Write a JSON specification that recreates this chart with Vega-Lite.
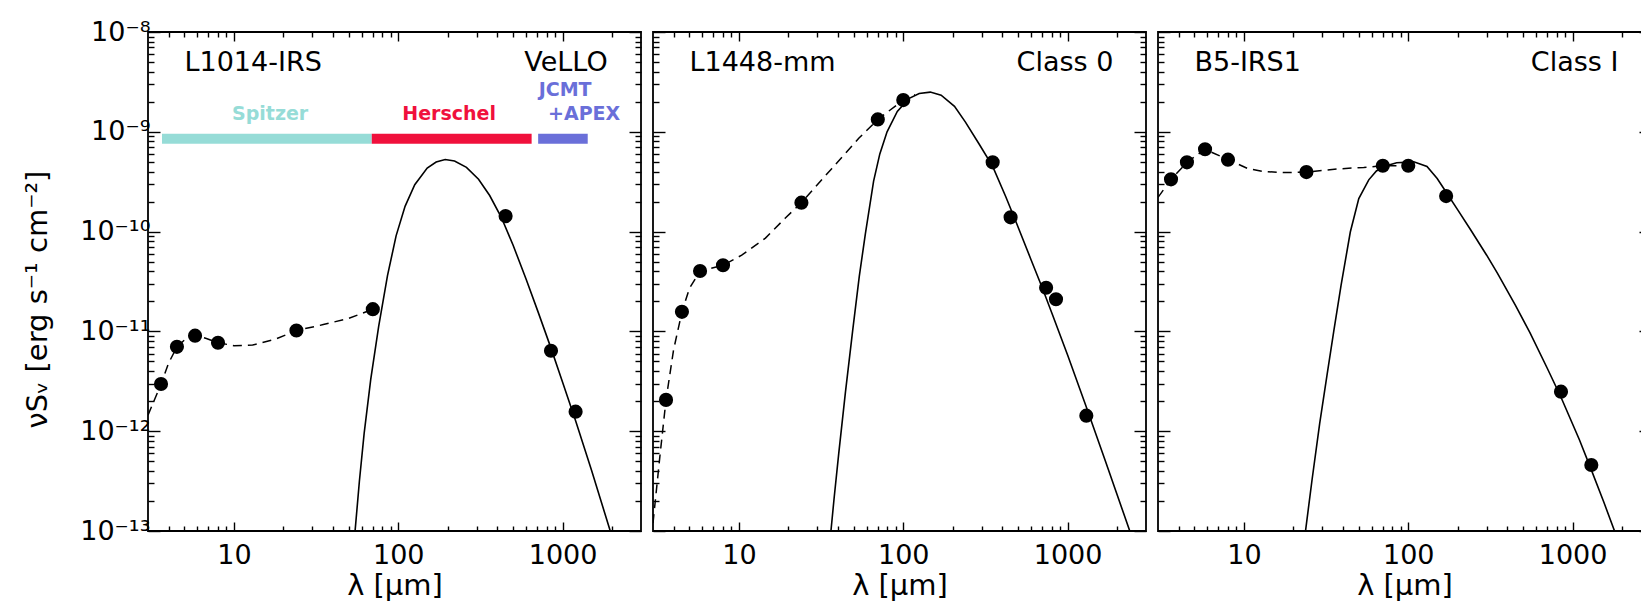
{
  "$schema": "https://vega.github.io/schema/vega-lite/v6.json",
  "padding": {"left": 22, "top": 17, "right": 0, "bottom": 0},
  "spacing": 8,
  "config": {
    "view": {"stroke": "black", "strokeWidth": 1.8},
    "font": "DejaVu Sans",
    "axis": {"labelFont": "DejaVu Sans", "titleFont": "DejaVu Sans", "labelColor": "black", "titleColor": "black", "tickColor": "black", "tickWidth": 1.4, "domain": false, "grid": false, "labelFlush": false, "titleFontWeight": "normal"}
  },
  "datasets": {
    "points": [
      {"panel": "L1014-IRS", "lam": 3.6, "flux": 2.97e-12},
      {"panel": "L1014-IRS", "lam": 4.5, "flux": 7.0e-12},
      {"panel": "L1014-IRS", "lam": 5.8, "flux": 9.06e-12},
      {"panel": "L1014-IRS", "lam": 8.0, "flux": 7.7e-12},
      {"panel": "L1014-IRS", "lam": 24, "flux": 1.02e-11},
      {"panel": "L1014-IRS", "lam": 70, "flux": 1.67e-11},
      {"panel": "L1014-IRS", "lam": 450, "flux": 1.43e-10},
      {"panel": "L1014-IRS", "lam": 850, "flux": 6.4e-12},
      {"panel": "L1014-IRS", "lam": 1200, "flux": 1.57e-12},
      {"panel": "L1448-mm", "lam": 3.6, "flux": 2.06e-12},
      {"panel": "L1448-mm", "lam": 4.5, "flux": 1.57e-11},
      {"panel": "L1448-mm", "lam": 5.8, "flux": 4.03e-11},
      {"panel": "L1448-mm", "lam": 8.0, "flux": 4.6e-11},
      {"panel": "L1448-mm", "lam": 24, "flux": 1.95e-10},
      {"panel": "L1448-mm", "lam": 70, "flux": 1.33e-9},
      {"panel": "L1448-mm", "lam": 100, "flux": 2.08e-9},
      {"panel": "L1448-mm", "lam": 350, "flux": 4.94e-10},
      {"panel": "L1448-mm", "lam": 450, "flux": 1.39e-10},
      {"panel": "L1448-mm", "lam": 740, "flux": 2.74e-11},
      {"panel": "L1448-mm", "lam": 850, "flux": 2.1e-11},
      {"panel": "L1448-mm", "lam": 1300, "flux": 1.43e-12},
      {"panel": "B5-IRS1", "lam": 3.6, "flux": 3.34e-10},
      {"panel": "B5-IRS1", "lam": 4.5, "flux": 4.94e-10},
      {"panel": "B5-IRS1", "lam": 5.8, "flux": 6.68e-10},
      {"panel": "B5-IRS1", "lam": 8.0, "flux": 5.26e-10},
      {"panel": "B5-IRS1", "lam": 24, "flux": 3.95e-10},
      {"panel": "B5-IRS1", "lam": 70, "flux": 4.57e-10},
      {"panel": "B5-IRS1", "lam": 100, "flux": 4.57e-10},
      {"panel": "B5-IRS1", "lam": 170, "flux": 2.27e-10},
      {"panel": "B5-IRS1", "lam": 850, "flux": 2.49e-12},
      {"panel": "B5-IRS1", "lam": 1300, "flux": 4.58e-13}
    ],
    "dashed": [
      {"panel": "L1014-IRS", "lam": 3.0, "flux": 1.45e-12},
      {"panel": "L1014-IRS", "lam": 3.3, "flux": 2.1e-12},
      {"panel": "L1014-IRS", "lam": 3.6, "flux": 2.97e-12},
      {"panel": "L1014-IRS", "lam": 4.0, "flux": 4.8e-12},
      {"panel": "L1014-IRS", "lam": 4.5, "flux": 7.0e-12},
      {"panel": "L1014-IRS", "lam": 5.0, "flux": 8.2e-12},
      {"panel": "L1014-IRS", "lam": 5.8, "flux": 9.06e-12},
      {"panel": "L1014-IRS", "lam": 6.8, "flux": 8.5e-12},
      {"panel": "L1014-IRS", "lam": 8.0, "flux": 7.7e-12},
      {"panel": "L1014-IRS", "lam": 10, "flux": 7.2e-12},
      {"panel": "L1014-IRS", "lam": 13, "flux": 7.3e-12},
      {"panel": "L1014-IRS", "lam": 18, "flux": 8.4e-12},
      {"panel": "L1014-IRS", "lam": 24, "flux": 1.02e-11},
      {"panel": "L1014-IRS", "lam": 35, "flux": 1.17e-11},
      {"panel": "L1014-IRS", "lam": 50, "flux": 1.35e-11},
      {"panel": "L1014-IRS", "lam": 70, "flux": 1.67e-11},
      {"panel": "L1448-mm", "lam": 3.0, "flux": 1.2e-13},
      {"panel": "L1448-mm", "lam": 3.3, "flux": 5.5e-13},
      {"panel": "L1448-mm", "lam": 3.6, "flux": 2.06e-12},
      {"panel": "L1448-mm", "lam": 4.0, "flux": 6.5e-12},
      {"panel": "L1448-mm", "lam": 4.5, "flux": 1.57e-11},
      {"panel": "L1448-mm", "lam": 5.0, "flux": 2.7e-11},
      {"panel": "L1448-mm", "lam": 5.8, "flux": 4.03e-11},
      {"panel": "L1448-mm", "lam": 8.0, "flux": 4.6e-11},
      {"panel": "L1448-mm", "lam": 10.4, "flux": 5.8e-11},
      {"panel": "L1448-mm", "lam": 14.5, "flux": 8.6e-11},
      {"panel": "L1448-mm", "lam": 19.1, "flux": 1.36e-10},
      {"panel": "L1448-mm", "lam": 24, "flux": 1.95e-10},
      {"panel": "L1448-mm", "lam": 36.8, "flux": 4.3e-10},
      {"panel": "L1448-mm", "lam": 53.6, "flux": 8.6e-10},
      {"panel": "L1448-mm", "lam": 70, "flux": 1.33e-9},
      {"panel": "L1448-mm", "lam": 100, "flux": 2.08e-9},
      {"panel": "L1448-mm", "lam": 118, "flux": 2.35e-9},
      {"panel": "B5-IRS1", "lam": 3.0, "flux": 2.2e-10},
      {"panel": "B5-IRS1", "lam": 3.6, "flux": 3.34e-10},
      {"panel": "B5-IRS1", "lam": 4.5, "flux": 4.94e-10},
      {"panel": "B5-IRS1", "lam": 5.8, "flux": 6.68e-10},
      {"panel": "B5-IRS1", "lam": 8.0, "flux": 5.26e-10},
      {"panel": "B5-IRS1", "lam": 10.5, "flux": 4.3e-10},
      {"panel": "B5-IRS1", "lam": 13.2, "flux": 4.0e-10},
      {"panel": "B5-IRS1", "lam": 17.5, "flux": 3.9e-10},
      {"panel": "B5-IRS1", "lam": 24, "flux": 3.95e-10},
      {"panel": "B5-IRS1", "lam": 36.8, "flux": 4.24e-10},
      {"panel": "B5-IRS1", "lam": 53.6, "flux": 4.4e-10},
      {"panel": "B5-IRS1", "lam": 70, "flux": 4.57e-10},
      {"panel": "B5-IRS1", "lam": 100, "flux": 4.57e-10}
    ],
    "solid": [
      {"panel": "L1014-IRS", "lam": 54.6, "flux": 1e-13},
      {"panel": "L1014-IRS", "lam": 58, "flux": 3.15e-13},
      {"panel": "L1014-IRS", "lam": 62, "flux": 9.5e-13},
      {"panel": "L1014-IRS", "lam": 68, "flux": 3.3e-12},
      {"panel": "L1014-IRS", "lam": 76, "flux": 1.12e-11},
      {"panel": "L1014-IRS", "lam": 86, "flux": 3.62e-11},
      {"panel": "L1014-IRS", "lam": 97, "flux": 9.06e-11},
      {"panel": "L1014-IRS", "lam": 110, "flux": 1.79e-10},
      {"panel": "L1014-IRS", "lam": 126, "flux": 2.95e-10},
      {"panel": "L1014-IRS", "lam": 150, "flux": 4.34e-10},
      {"panel": "L1014-IRS", "lam": 170, "flux": 4.98e-10},
      {"panel": "L1014-IRS", "lam": 193, "flux": 5.27e-10},
      {"panel": "L1014-IRS", "lam": 220, "flux": 5.1e-10},
      {"panel": "L1014-IRS", "lam": 260, "flux": 4.4e-10},
      {"panel": "L1014-IRS", "lam": 308, "flux": 3.35e-10},
      {"panel": "L1014-IRS", "lam": 360, "flux": 2.3e-10},
      {"panel": "L1014-IRS", "lam": 423, "flux": 1.4e-10},
      {"panel": "L1014-IRS", "lam": 500, "flux": 7.3e-11},
      {"panel": "L1014-IRS", "lam": 600, "flux": 3.33e-11},
      {"panel": "L1014-IRS", "lam": 710, "flux": 1.56e-11},
      {"panel": "L1014-IRS", "lam": 850, "flux": 6.8e-12},
      {"panel": "L1014-IRS", "lam": 1000, "flux": 3.1e-12},
      {"panel": "L1014-IRS", "lam": 1200, "flux": 1.27e-12},
      {"panel": "L1014-IRS", "lam": 1500, "flux": 4.06e-13},
      {"panel": "L1014-IRS", "lam": 1950, "flux": 1e-13},
      {"panel": "L1448-mm", "lam": 36.3, "flux": 1e-13},
      {"panel": "L1448-mm", "lam": 38, "flux": 2.18e-13},
      {"panel": "L1448-mm", "lam": 40.5, "flux": 6.0e-13},
      {"panel": "L1448-mm", "lam": 44.5, "flux": 2.48e-12},
      {"panel": "L1448-mm", "lam": 49.3, "flux": 1.04e-11},
      {"panel": "L1448-mm", "lam": 54, "flux": 3.56e-11},
      {"panel": "L1448-mm", "lam": 58.8, "flux": 9.5e-11},
      {"panel": "L1448-mm", "lam": 66, "flux": 3.2e-10},
      {"panel": "L1448-mm", "lam": 72, "flux": 6.0e-10},
      {"panel": "L1448-mm", "lam": 79.7, "flux": 1.0e-9},
      {"panel": "L1448-mm", "lam": 92, "flux": 1.6e-9},
      {"panel": "L1448-mm", "lam": 108, "flux": 2.15e-9},
      {"panel": "L1448-mm", "lam": 125, "flux": 2.42e-9},
      {"panel": "L1448-mm", "lam": 146, "flux": 2.5e-9},
      {"panel": "L1448-mm", "lam": 170, "flux": 2.33e-9},
      {"panel": "L1448-mm", "lam": 205, "flux": 1.8e-9},
      {"panel": "L1448-mm", "lam": 239, "flux": 1.25e-9},
      {"panel": "L1448-mm", "lam": 290, "flux": 7.5e-10},
      {"panel": "L1448-mm", "lam": 350, "flux": 4.5e-10},
      {"panel": "L1448-mm", "lam": 420, "flux": 2.25e-10},
      {"panel": "L1448-mm", "lam": 481, "flux": 1.3e-10},
      {"panel": "L1448-mm", "lam": 600, "flux": 5.2e-11},
      {"panel": "L1448-mm", "lam": 700, "flux": 2.75e-11},
      {"panel": "L1448-mm", "lam": 805, "flux": 1.5e-11},
      {"panel": "L1448-mm", "lam": 1000, "flux": 5.8e-12},
      {"panel": "L1448-mm", "lam": 1300, "flux": 1.75e-12},
      {"panel": "L1448-mm", "lam": 1700, "flux": 5.0e-13},
      {"panel": "L1448-mm", "lam": 2390, "flux": 1e-13},
      {"panel": "B5-IRS1", "lam": 23.7, "flux": 1e-13},
      {"panel": "B5-IRS1", "lam": 26, "flux": 3.3e-13},
      {"panel": "B5-IRS1", "lam": 28.9, "flux": 1.19e-12},
      {"panel": "B5-IRS1", "lam": 32, "flux": 3.6e-12},
      {"panel": "B5-IRS1", "lam": 35.2, "flux": 1e-11},
      {"panel": "B5-IRS1", "lam": 39, "flux": 2.9e-11},
      {"panel": "B5-IRS1", "lam": 44.4, "flux": 9.9e-11},
      {"panel": "B5-IRS1", "lam": 50, "flux": 2.14e-10},
      {"panel": "B5-IRS1", "lam": 57.5, "flux": 3.3e-10},
      {"panel": "B5-IRS1", "lam": 64, "flux": 4.05e-10},
      {"panel": "B5-IRS1", "lam": 71, "flux": 4.5e-10},
      {"panel": "B5-IRS1", "lam": 85, "flux": 4.9e-10},
      {"panel": "B5-IRS1", "lam": 108, "flux": 5.0e-10},
      {"panel": "B5-IRS1", "lam": 130, "flux": 4.5e-10},
      {"panel": "B5-IRS1", "lam": 150, "flux": 3.4e-10},
      {"panel": "B5-IRS1", "lam": 171, "flux": 2.45e-10},
      {"panel": "B5-IRS1", "lam": 200, "flux": 1.65e-10},
      {"panel": "B5-IRS1", "lam": 239, "flux": 1.05e-10},
      {"panel": "B5-IRS1", "lam": 300, "flux": 5.8e-11},
      {"panel": "B5-IRS1", "lam": 350, "flux": 3.79e-11},
      {"panel": "B5-IRS1", "lam": 450, "flux": 1.81e-11},
      {"panel": "B5-IRS1", "lam": 550, "flux": 9.7e-12},
      {"panel": "B5-IRS1", "lam": 700, "flux": 4.3e-12},
      {"panel": "B5-IRS1", "lam": 850, "flux": 2.19e-12},
      {"panel": "B5-IRS1", "lam": 1100, "flux": 8.2e-13},
      {"panel": "B5-IRS1", "lam": 1300, "flux": 4.1e-13},
      {"panel": "B5-IRS1", "lam": 1550, "flux": 1.94e-13},
      {"panel": "B5-IRS1", "lam": 1800, "flux": 1e-13}
    ],
    "names": [
      {"panel": "L1014-IRS", "text": "L1014-IRS", "lam": 5.0, "flux": 4.1e-9, "side": "left"},
      {"panel": "L1014-IRS", "text": "VeLLO", "lam": 1880, "flux": 4.1e-9, "side": "right"},
      {"panel": "L1448-mm", "text": "L1448-mm", "lam": 5.0, "flux": 4.1e-9, "side": "left"},
      {"panel": "L1448-mm", "text": "Class 0", "lam": 1900, "flux": 4.1e-9, "side": "right"},
      {"panel": "B5-IRS1", "text": "B5-IRS1", "lam": 5.0, "flux": 4.1e-9, "side": "left"},
      {"panel": "B5-IRS1", "text": "Class I", "lam": 1900, "flux": 4.1e-9, "side": "right"}
    ],
    "bands": [
      {"band": "Spitzer", "start": 3.65, "end": 69, "flux": 8.5e-10},
      {"band": "Herschel", "start": 69, "end": 648, "flux": 8.5e-10},
      {"band": "JCMT+APEX", "start": 710, "end": 1422, "flux": 8.5e-10}
    ],
    "bandlabels": [
      {"band": "Spitzer", "text": "Spitzer", "lam": 16.6, "flux": 1.5e-9},
      {"band": "Herschel", "text": "Herschel", "lam": 204, "flux": 1.5e-9},
      {"band": "JCMT+APEX", "text": "JCMT", "lam": 1036, "flux": 2.6e-9},
      {"band": "JCMT+APEX", "text": "+APEX", "lam": 1352, "flux": 1.5e-9}
    ]
  },
  "hconcat": [
    {
      "width": 493, "height": 499,
      "resolve": {"axis": {"x": "independent", "y": "independent"}},
      "layer": [
        {
          "data": {"name": "bands"},
          "mark": {"type": "rule", "strokeWidth": 10, "strokeCap": "butt"},
          "encoding": {
            "x": {"field": "start", "type": "quantitative", "scale": {"type": "log", "domain": [3, 3000], "nice": false}, "axis": null},
            "x2": {"field": "end"},
            "y": {"field": "flux", "type": "quantitative", "scale": {"type": "log", "domain": [1e-13, 1e-8], "nice": false}, "axis": null},
            "color": {"field": "band", "type": "nominal", "scale": {"domain": ["Spitzer", "Herschel", "JCMT+APEX"], "range": ["#96DCD7", "#F0103C", "#6A6FD9"]}, "legend": null}
          }
        },
        {
          "data": {"name": "bandlabels"},
          "mark": {"type": "text", "fontSize": 19, "fontWeight": "bold", "align": "center", "baseline": "middle", "font": "DejaVu Sans"},
          "encoding": {
            "x": {"field": "lam", "type": "quantitative", "scale": {"type": "log", "domain": [3, 3000], "nice": false}, "axis": null},
            "y": {"field": "flux", "type": "quantitative", "scale": {"type": "log", "domain": [1e-13, 1e-8], "nice": false}, "axis": null},
            "text": {"field": "text"},
            "color": {"field": "band", "type": "nominal", "scale": {"domain": ["Spitzer", "Herschel", "JCMT+APEX"], "range": ["#96DCD7", "#F0103C", "#6A6FD9"]}, "legend": null}
          }
        },
        {
          "data": {"name": "solid"},
          "transform": [{"filter": "datum.panel == 'L1014-IRS'"}],
          "mark": {"type": "line", "stroke": "black", "strokeWidth": 1.6, "clip": true},
          "encoding": {
            "x": {"field": "lam", "type": "quantitative", "scale": {"type": "log", "domain": [3, 3000], "nice": false},
              "axis": {"orient": "bottom", "values": [10, 100, 1000], "tickSize": -9, "labelExpr": "format(datum.value, 'd')", "labelFontSize": 27, "labelPadding": 20, "title": "λ [µm]", "titleFontSize": 29, "titlePadding": 3}},
            "y": {"field": "flux", "type": "quantitative", "scale": {"type": "log", "domain": [1e-13, 1e-8], "nice": false},
              "axis": {"orient": "left", "values": [1e-13, 1e-12, 1e-11, 1e-10, 1e-9, 1e-8], "tickSize": -12, "labelExpr": "'10' + ['⁻¹³','⁻¹²','⁻¹¹','⁻¹⁰','⁻⁹','⁻⁸'][round(log(datum.value)/LN10) + 13]", "labelFontSize": 27, "labelPadding": 10, "labelBaseline": "middle", "minExtent": 84, "maxExtent": 84, "title": "νSᵥ  [erg s⁻¹  cm⁻²]", "titleFontSize": 29, "titlePadding": 12, "titleY": 267}}
          }
        },
        {
          "data": {"name": "dashed"},
          "transform": [{"filter": "datum.panel == 'L1014-IRS'"}],
          "mark": {"type": "line", "stroke": "black", "strokeWidth": 1.5, "strokeDash": [9, 6], "clip": true},
          "encoding": {
            "x": {"field": "lam", "type": "quantitative", "scale": {"type": "log", "domain": [3, 3000], "nice": false},
              "axis": {"orient": "bottom", "values": [4, 5, 6, 7, 8, 9, 20, 30, 40, 50, 60, 70, 80, 90, 200, 300, 400, 500, 600, 700, 800, 900, 2000], "tickSize": -5, "labels": false, "title": null, "minExtent": 0, "maxExtent": 0}},
            "y": {"field": "flux", "type": "quantitative", "scale": {"type": "log", "domain": [1e-13, 1e-8], "nice": false},
              "axis": {"orient": "left", "values": [2e-13, 3e-13, 4e-13, 5e-13, 6e-13, 7e-13, 8e-13, 9e-13, 2e-12, 3e-12, 4e-12, 5e-12, 6e-12, 7e-12, 8e-12, 9e-12, 2e-11, 3e-11, 4e-11, 5e-11, 6e-11, 7e-11, 8e-11, 9e-11, 2e-10, 3e-10, 4e-10, 5e-10, 6e-10, 7e-10, 8e-10, 9e-10, 2e-9, 3e-9, 4e-9, 5e-9, 6e-9, 7e-9, 8e-9, 9e-9], "tickSize": -6, "labels": false, "title": null, "minExtent": 0, "maxExtent": 0}}
          }
        },
        {
          "data": {"name": "points"},
          "transform": [{"filter": "datum.panel == 'L1014-IRS'"}],
          "mark": {"type": "circle", "size": 200, "color": "black", "opacity": 1},
          "encoding": {
            "x": {"field": "lam", "type": "quantitative", "scale": {"type": "log", "domain": [3, 3000], "nice": false},
              "axis": {"orient": "top", "values": [10, 100, 1000], "tickSize": -9, "labels": false, "title": null, "minExtent": 0, "maxExtent": 0}},
            "y": {"field": "flux", "type": "quantitative", "scale": {"type": "log", "domain": [1e-13, 1e-8], "nice": false},
              "axis": {"orient": "right", "values": [1e-13, 1e-12, 1e-11, 1e-10, 1e-9, 1e-8], "tickSize": -12, "labels": false, "title": null, "minExtent": 0, "maxExtent": 0}}
          }
        },
        {
          "data": {"name": "names"},
          "transform": [{"filter": "datum.panel == 'L1014-IRS' && datum.side == 'left'"}],
          "mark": {"type": "text", "fontSize": 27, "align": "left", "baseline": "alphabetic", "font": "DejaVu Sans", "color": "black"},
          "encoding": {
            "x": {"field": "lam", "type": "quantitative", "scale": {"type": "log", "domain": [3, 3000], "nice": false},
              "axis": {"orient": "top", "values": [4, 5, 6, 7, 8, 9, 20, 30, 40, 50, 60, 70, 80, 90, 200, 300, 400, 500, 600, 700, 800, 900, 2000], "tickSize": -5, "labels": false, "title": null, "minExtent": 0, "maxExtent": 0}},
            "y": {"field": "flux", "type": "quantitative", "scale": {"type": "log", "domain": [1e-13, 1e-8], "nice": false},
              "axis": {"orient": "right", "values": [2e-13, 3e-13, 4e-13, 5e-13, 6e-13, 7e-13, 8e-13, 9e-13, 2e-12, 3e-12, 4e-12, 5e-12, 6e-12, 7e-12, 8e-12, 9e-12, 2e-11, 3e-11, 4e-11, 5e-11, 6e-11, 7e-11, 8e-11, 9e-11, 2e-10, 3e-10, 4e-10, 5e-10, 6e-10, 7e-10, 8e-10, 9e-10, 2e-9, 3e-9, 4e-9, 5e-9, 6e-9, 7e-9, 8e-9, 9e-9], "tickSize": -6, "labels": false, "title": null, "minExtent": 0, "maxExtent": 0}},
            "text": {"field": "text"}
          }
        },
        {
          "data": {"name": "names"},
          "transform": [{"filter": "datum.panel == 'L1014-IRS' && datum.side == 'right'"}],
          "mark": {"type": "text", "fontSize": 27, "align": "right", "baseline": "alphabetic", "font": "DejaVu Sans", "color": "black"},
          "encoding": {
            "x": {"field": "lam", "type": "quantitative", "scale": {"type": "log", "domain": [3, 3000], "nice": false}, "axis": null},
            "y": {"field": "flux", "type": "quantitative", "scale": {"type": "log", "domain": [1e-13, 1e-8], "nice": false}, "axis": null},
            "text": {"field": "text"}
          }
        }
      ]
    },
    {
      "width": 493, "height": 499,
      "resolve": {"axis": {"x": "independent", "y": "independent"}},
      "layer": [
        {
          "data": {"name": "solid"},
          "transform": [{"filter": "datum.panel == 'L1448-mm'"}],
          "mark": {"type": "line", "stroke": "black", "strokeWidth": 1.6, "clip": true},
          "encoding": {
            "x": {"field": "lam", "type": "quantitative", "scale": {"type": "log", "domain": [3, 3000], "nice": false},
              "axis": {"orient": "bottom", "values": [10, 100, 1000], "tickSize": -9, "labelExpr": "format(datum.value, 'd')", "labelFontSize": 27, "labelPadding": 20, "title": "λ [µm]", "titleFontSize": 29, "titlePadding": 3}},
            "y": {"field": "flux", "type": "quantitative", "scale": {"type": "log", "domain": [1e-13, 1e-8], "nice": false},
              "axis": {"orient": "left", "values": [1e-13, 1e-12, 1e-11, 1e-10, 1e-9, 1e-8], "tickSize": -12, "labels": false, "title": null, "minExtent": 0, "maxExtent": 0}}
          }
        },
        {
          "data": {"name": "dashed"},
          "transform": [{"filter": "datum.panel == 'L1448-mm'"}],
          "mark": {"type": "line", "stroke": "black", "strokeWidth": 1.5, "strokeDash": [9, 6], "clip": true},
          "encoding": {
            "x": {"field": "lam", "type": "quantitative", "scale": {"type": "log", "domain": [3, 3000], "nice": false},
              "axis": {"orient": "bottom", "values": [4, 5, 6, 7, 8, 9, 20, 30, 40, 50, 60, 70, 80, 90, 200, 300, 400, 500, 600, 700, 800, 900, 2000], "tickSize": -5, "labels": false, "title": null, "minExtent": 0, "maxExtent": 0}},
            "y": {"field": "flux", "type": "quantitative", "scale": {"type": "log", "domain": [1e-13, 1e-8], "nice": false},
              "axis": {"orient": "left", "values": [2e-13, 3e-13, 4e-13, 5e-13, 6e-13, 7e-13, 8e-13, 9e-13, 2e-12, 3e-12, 4e-12, 5e-12, 6e-12, 7e-12, 8e-12, 9e-12, 2e-11, 3e-11, 4e-11, 5e-11, 6e-11, 7e-11, 8e-11, 9e-11, 2e-10, 3e-10, 4e-10, 5e-10, 6e-10, 7e-10, 8e-10, 9e-10, 2e-9, 3e-9, 4e-9, 5e-9, 6e-9, 7e-9, 8e-9, 9e-9], "tickSize": -6, "labels": false, "title": null, "minExtent": 0, "maxExtent": 0}}
          }
        },
        {
          "data": {"name": "points"},
          "transform": [{"filter": "datum.panel == 'L1448-mm'"}],
          "mark": {"type": "circle", "size": 200, "color": "black", "opacity": 1},
          "encoding": {
            "x": {"field": "lam", "type": "quantitative", "scale": {"type": "log", "domain": [3, 3000], "nice": false},
              "axis": {"orient": "top", "values": [10, 100, 1000], "tickSize": -9, "labels": false, "title": null, "minExtent": 0, "maxExtent": 0}},
            "y": {"field": "flux", "type": "quantitative", "scale": {"type": "log", "domain": [1e-13, 1e-8], "nice": false},
              "axis": {"orient": "right", "values": [1e-13, 1e-12, 1e-11, 1e-10, 1e-9, 1e-8], "tickSize": -12, "labels": false, "title": null, "minExtent": 0, "maxExtent": 0}}
          }
        },
        {
          "data": {"name": "names"},
          "transform": [{"filter": "datum.panel == 'L1448-mm' && datum.side == 'left'"}],
          "mark": {"type": "text", "fontSize": 27, "align": "left", "baseline": "alphabetic", "font": "DejaVu Sans", "color": "black"},
          "encoding": {
            "x": {"field": "lam", "type": "quantitative", "scale": {"type": "log", "domain": [3, 3000], "nice": false},
              "axis": {"orient": "top", "values": [4, 5, 6, 7, 8, 9, 20, 30, 40, 50, 60, 70, 80, 90, 200, 300, 400, 500, 600, 700, 800, 900, 2000], "tickSize": -5, "labels": false, "title": null, "minExtent": 0, "maxExtent": 0}},
            "y": {"field": "flux", "type": "quantitative", "scale": {"type": "log", "domain": [1e-13, 1e-8], "nice": false},
              "axis": {"orient": "right", "values": [2e-13, 3e-13, 4e-13, 5e-13, 6e-13, 7e-13, 8e-13, 9e-13, 2e-12, 3e-12, 4e-12, 5e-12, 6e-12, 7e-12, 8e-12, 9e-12, 2e-11, 3e-11, 4e-11, 5e-11, 6e-11, 7e-11, 8e-11, 9e-11, 2e-10, 3e-10, 4e-10, 5e-10, 6e-10, 7e-10, 8e-10, 9e-10, 2e-9, 3e-9, 4e-9, 5e-9, 6e-9, 7e-9, 8e-9, 9e-9], "tickSize": -6, "labels": false, "title": null, "minExtent": 0, "maxExtent": 0}},
            "text": {"field": "text"}
          }
        },
        {
          "data": {"name": "names"},
          "transform": [{"filter": "datum.panel == 'L1448-mm' && datum.side == 'right'"}],
          "mark": {"type": "text", "fontSize": 27, "align": "right", "baseline": "alphabetic", "font": "DejaVu Sans", "color": "black"},
          "encoding": {
            "x": {"field": "lam", "type": "quantitative", "scale": {"type": "log", "domain": [3, 3000], "nice": false}, "axis": null},
            "y": {"field": "flux", "type": "quantitative", "scale": {"type": "log", "domain": [1e-13, 1e-8], "nice": false}, "axis": null},
            "text": {"field": "text"}
          }
        }
      ]
    },
    {
      "width": 493, "height": 499,
      "resolve": {"axis": {"x": "independent", "y": "independent"}},
      "layer": [
        {
          "data": {"name": "solid"},
          "transform": [{"filter": "datum.panel == 'B5-IRS1'"}],
          "mark": {"type": "line", "stroke": "black", "strokeWidth": 1.6, "clip": true},
          "encoding": {
            "x": {"field": "lam", "type": "quantitative", "scale": {"type": "log", "domain": [3, 3000], "nice": false},
              "axis": {"orient": "bottom", "values": [10, 100, 1000], "tickSize": -9, "labelExpr": "format(datum.value, 'd')", "labelFontSize": 27, "labelPadding": 20, "title": "λ [µm]", "titleFontSize": 29, "titlePadding": 3}},
            "y": {"field": "flux", "type": "quantitative", "scale": {"type": "log", "domain": [1e-13, 1e-8], "nice": false},
              "axis": {"orient": "left", "values": [1e-13, 1e-12, 1e-11, 1e-10, 1e-9, 1e-8], "tickSize": -12, "labels": false, "title": null, "minExtent": 0, "maxExtent": 0}}
          }
        },
        {
          "data": {"name": "dashed"},
          "transform": [{"filter": "datum.panel == 'B5-IRS1'"}],
          "mark": {"type": "line", "stroke": "black", "strokeWidth": 1.5, "strokeDash": [9, 6], "clip": true},
          "encoding": {
            "x": {"field": "lam", "type": "quantitative", "scale": {"type": "log", "domain": [3, 3000], "nice": false},
              "axis": {"orient": "bottom", "values": [4, 5, 6, 7, 8, 9, 20, 30, 40, 50, 60, 70, 80, 90, 200, 300, 400, 500, 600, 700, 800, 900, 2000], "tickSize": -5, "labels": false, "title": null, "minExtent": 0, "maxExtent": 0}},
            "y": {"field": "flux", "type": "quantitative", "scale": {"type": "log", "domain": [1e-13, 1e-8], "nice": false},
              "axis": {"orient": "left", "values": [2e-13, 3e-13, 4e-13, 5e-13, 6e-13, 7e-13, 8e-13, 9e-13, 2e-12, 3e-12, 4e-12, 5e-12, 6e-12, 7e-12, 8e-12, 9e-12, 2e-11, 3e-11, 4e-11, 5e-11, 6e-11, 7e-11, 8e-11, 9e-11, 2e-10, 3e-10, 4e-10, 5e-10, 6e-10, 7e-10, 8e-10, 9e-10, 2e-9, 3e-9, 4e-9, 5e-9, 6e-9, 7e-9, 8e-9, 9e-9], "tickSize": -6, "labels": false, "title": null, "minExtent": 0, "maxExtent": 0}}
          }
        },
        {
          "data": {"name": "points"},
          "transform": [{"filter": "datum.panel == 'B5-IRS1'"}],
          "mark": {"type": "circle", "size": 200, "color": "black", "opacity": 1},
          "encoding": {
            "x": {"field": "lam", "type": "quantitative", "scale": {"type": "log", "domain": [3, 3000], "nice": false},
              "axis": {"orient": "top", "values": [10, 100, 1000], "tickSize": -9, "labels": false, "title": null, "minExtent": 0, "maxExtent": 0}},
            "y": {"field": "flux", "type": "quantitative", "scale": {"type": "log", "domain": [1e-13, 1e-8], "nice": false},
              "axis": {"orient": "right", "values": [1e-13, 1e-12, 1e-11, 1e-10, 1e-9, 1e-8], "tickSize": -12, "labels": false, "title": null, "minExtent": 0, "maxExtent": 0}}
          }
        },
        {
          "data": {"name": "names"},
          "transform": [{"filter": "datum.panel == 'B5-IRS1' && datum.side == 'left'"}],
          "mark": {"type": "text", "fontSize": 27, "align": "left", "baseline": "alphabetic", "font": "DejaVu Sans", "color": "black"},
          "encoding": {
            "x": {"field": "lam", "type": "quantitative", "scale": {"type": "log", "domain": [3, 3000], "nice": false},
              "axis": {"orient": "top", "values": [4, 5, 6, 7, 8, 9, 20, 30, 40, 50, 60, 70, 80, 90, 200, 300, 400, 500, 600, 700, 800, 900, 2000], "tickSize": -5, "labels": false, "title": null, "minExtent": 0, "maxExtent": 0}},
            "y": {"field": "flux", "type": "quantitative", "scale": {"type": "log", "domain": [1e-13, 1e-8], "nice": false},
              "axis": {"orient": "right", "values": [2e-13, 3e-13, 4e-13, 5e-13, 6e-13, 7e-13, 8e-13, 9e-13, 2e-12, 3e-12, 4e-12, 5e-12, 6e-12, 7e-12, 8e-12, 9e-12, 2e-11, 3e-11, 4e-11, 5e-11, 6e-11, 7e-11, 8e-11, 9e-11, 2e-10, 3e-10, 4e-10, 5e-10, 6e-10, 7e-10, 8e-10, 9e-10, 2e-9, 3e-9, 4e-9, 5e-9, 6e-9, 7e-9, 8e-9, 9e-9], "tickSize": -6, "labels": false, "title": null, "minExtent": 0, "maxExtent": 0}},
            "text": {"field": "text"}
          }
        },
        {
          "data": {"name": "names"},
          "transform": [{"filter": "datum.panel == 'B5-IRS1' && datum.side == 'right'"}],
          "mark": {"type": "text", "fontSize": 27, "align": "right", "baseline": "alphabetic", "font": "DejaVu Sans", "color": "black"},
          "encoding": {
            "x": {"field": "lam", "type": "quantitative", "scale": {"type": "log", "domain": [3, 3000], "nice": false}, "axis": null},
            "y": {"field": "flux", "type": "quantitative", "scale": {"type": "log", "domain": [1e-13, 1e-8], "nice": false}, "axis": null},
            "text": {"field": "text"}
          }
        }
      ]
    }
  ]
}
